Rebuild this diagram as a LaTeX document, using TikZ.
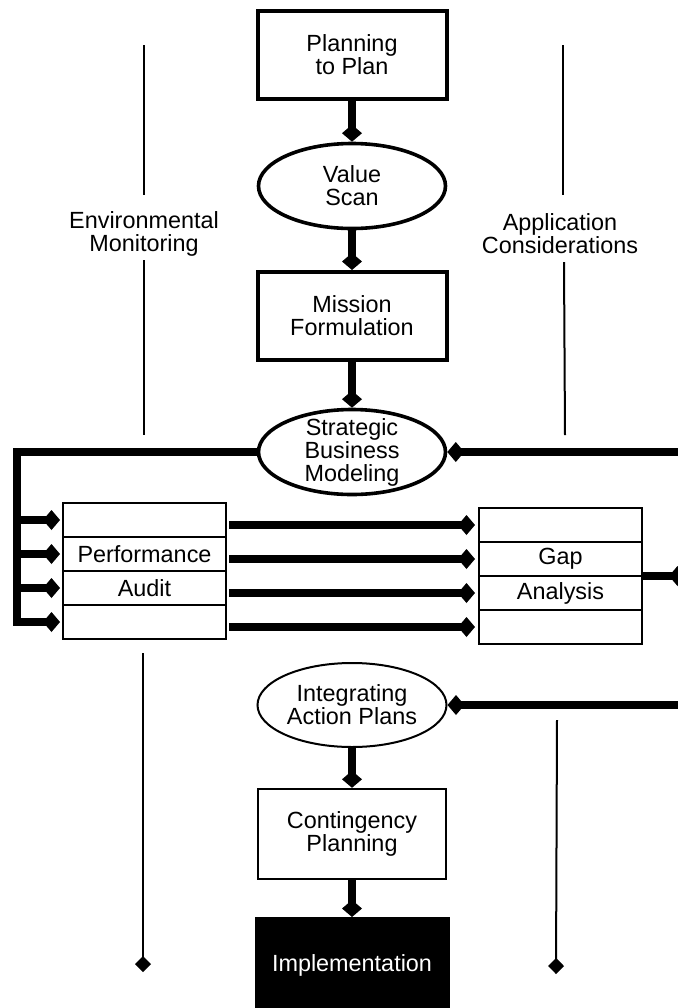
\documentclass[tikz,border=0pt]{standalone}
\usepackage{fontspec}
\setmainfont{Liberation Sans}
\usetikzlibrary{positioning,shapes.geometric,arrows.meta}

\begin{document}
\begin{tikzpicture}[x=0.5pt,y=-0.5pt,
    font=\fontsize{11.7pt}{11.5pt}\selectfont,
    every node/.style={align=center,inner sep=0pt},
    heavybox/.style={draw,line width=2pt,minimum width=94.5pt,minimum height=44pt},
    lightbox/.style={draw,line width=1.2pt,minimum width=94pt,minimum height=45pt},
    heavyoval/.style={draw,ellipse,line width=1.8pt,minimum width=93.5pt,minimum height=42.5pt},
    lightoval/.style={draw,ellipse,line width=1pt,minimum width=94.5pt,minimum height=42pt},
    cell/.style={draw,line width=1pt,outer sep=0pt,minimum width=81.5pt,minimum height=17pt},
    flow/.style={line width=4.2pt,-{Diamond[length=8.5pt,width=10pt]}},
    guide/.style={line width=1pt},
    guideend/.style={line width=1pt,-{Diamond[length=8pt,width=8pt]}}
]
    \useasboundingbox (0,0) rectangle (678,1008);

    \node[heavybox] (plan) at (352,55) {Planning\\to Plan};
    \node[heavyoval] (value) at (352,186) {Value\\Scan};
    \node[heavybox] (mission) at (352,316) {Mission\\Formulation};
    \node[heavyoval,inner ysep=-3pt] (sbm) at (352,452) {Strategic\\Business\\Modeling};
    \node[lightoval] (iap) at (352,705) {Integrating\\Action Plans};
    \node[lightbox] (cont) at (352,834) {Contingency\\Planning};
    \node[heavybox,fill=black,text=white,minimum width=95.5pt,minimum height=46pt] (impl) at (352,965) {Implementation};

    \node[cell] (p1) at (144.5,520) {};
    \node[cell,below=0pt of p1] (p2) {Performance};
    \node[cell,below=0pt of p2] (p3) {Audit};
    \node[cell,below=0pt of p3] (p4) {};

    \node[cell] (g1) at (560.5,525) {};
    \node[cell,below=0pt of g1] (g2) {Gap};
    \node[cell,below=0pt of g2] (g3) {Analysis};
    \node[cell,below=0pt of g3] (g4) {};

    \node (env) at (144,234) {Environmental\\Monitoring};
    \node (app) at (560,234) {Application\\Considerations};

    \coordinate (envA) at (144,45);
    \coordinate (envB) at (144,195);
    \coordinate (envC) at (144,260);
    \coordinate (envD) at (144,435);
    \coordinate (envE) at (143,653);
    \coordinate (envF) at (143,972);
    \coordinate (appA) at (563,45);
    \coordinate (appB) at (563,195);
    \coordinate (appC) at (564,262);
    \coordinate (appD) at (565,435);
    \coordinate (appE) at (557,720);
    \coordinate (appF) at (556,974);
    \coordinate (rail) at (17,452);
    \coordinate (gapout) at (686,0);
    \coordinate (fbsbm) at (690,452);
    \coordinate (fbiap) at (690,705);

    \draw[guide] (envA) -- (envB);
    \draw[guide] (envC) -- (envD);
    \draw[guideend] (envE) -- (envF);
    \draw[guide] (appA) -- (appB);
    \draw[guide] (appC) -- (appD);
    \draw[guideend] (appE) -- (appF);

    \draw[flow] (plan) -- (value);
    \draw[flow] (value) -- (mission);
    \draw[flow] (mission) -- (sbm);
    \draw[flow] (iap) -- (cont);
    \draw[flow] (cont) -- (impl);

    \draw[flow,shorten >=1.5pt] (sbm.west) -| (rail |- p4.west) -- (p4.west);
    \foreach \r in {1,2,3} {
        \draw[flow,shorten >=1.5pt] (rail |- p\r.west) -- (p\r.west);
    }
    \foreach \r in {1,2,3,4} {
        \draw[flow,shorten <=1.5pt,shorten >=2pt] (p\r.east |- g\r.west) -- (g\r.west);
    }
    \draw[flow] (g2.south east) -- (g2.south east -| gapout);
    \draw[flow] (fbsbm) -- (sbm.east);
    \draw[flow] (fbiap) -- (iap.east);
\end{tikzpicture}
\end{document}
